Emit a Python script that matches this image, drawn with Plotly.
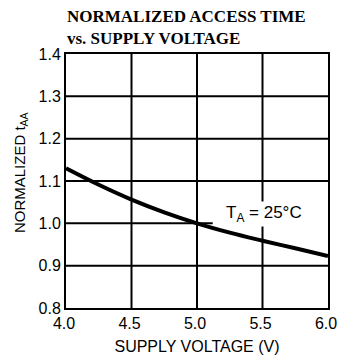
import plotly.graph_objects as go

voltage = [4.0, 4.25, 4.5, 4.75, 5.0, 5.25, 5.5, 5.75, 6.0]
norm_taa = [1.13, 1.091, 1.056, 1.026, 1.0, 0.978, 0.959, 0.941, 0.923]

x_ticks = [4.0, 4.5, 5.0, 5.5, 6.0]
x_tick_labels = ["4.0", "4.5", "5.0", "5.5", "6.0"]
y_ticks = [0.8, 0.9, 1.0, 1.1, 1.2, 1.3, 1.4]
y_tick_labels = ["0.8", "0.9", "1.0", "1.1", "1.2", "1.3", "1.4"]

label_text = "T<sub>A</sub> = 25°C"
label_pos = (5.51, 1.022)
leader_end = 5.12

SANS = "Liberation Sans, Arial, Helvetica, sans-serif"
SERIF = "Liberation Serif, Times New Roman, serif"

fig = go.Figure()
fig.add_trace(go.Scatter(x=voltage, y=norm_taa, mode="lines",
                         line=dict(color="black", width=4, shape="spline"),
                         hoverinfo="skip", showlegend=False))

shapes = []
for xv in x_ticks[1:-1]:
    shapes.append(dict(type="line", xref="x", yref="y", x0=xv, x1=xv,
                       y0=y_ticks[0], y1=y_ticks[-1],
                       line=dict(color="black", width=2), layer="between"))
for yv in y_ticks[1:-1]:
    x_end = leader_end if abs(yv - 1.0) < 1e-9 else x_ticks[-1]
    shapes.append(dict(type="line", xref="x", yref="y", x0=x_ticks[0], x1=x_end,
                       y0=yv, y1=yv,
                       line=dict(color="black", width=2), layer="between"))

fig.update_layout(
    width=339, height=356, autosize=False,
    margin=dict(l=66, r=11, t=54, b=48),
    paper_bgcolor="white", plot_bgcolor="white",
    font=dict(family=SANS, color="black", size=16),
    shapes=shapes,
    annotations=[
        dict(x=label_pos[0], y=label_pos[1], xref="x", yref="y", text=label_text,
             showarrow=False, bgcolor="white", font=dict(size=17), borderpad=1),
        dict(x=0.0, y=1.104, xref="paper", yref="paper", yanchor="middle", xanchor="left",
             align="left", borderpad=0,
             text="<b>NORMALIZED ACCESS TIME<br>vs. SUPPLY VOLTAGE</b>", showarrow=False,
             font=dict(family=SERIF, size=17)),
        dict(x=-0.1756, y=0.535, xref="paper", yref="paper", xanchor="center", yanchor="middle",
             text="NORMALIZED t<sub>AA</sub>", textangle=-90, showarrow=False,
             font=dict(size=15)),
    ],
)
fig.update_xaxes(range=[x_ticks[0], x_ticks[-1]], tickvals=x_ticks, ticktext=x_tick_labels,
                 showgrid=False, zeroline=False, showline=True, mirror=True,
                 linecolor="black", linewidth=2, ticks="", ticklabeloverflow="allow",
                 ticklabelshift=-2, automargin=False,
                 title=dict(text="SUPPLY VOLTAGE (V)", font=dict(size=16), standoff=10))
fig.update_yaxes(range=[y_ticks[0], y_ticks[-1]], tickvals=y_ticks, ticktext=y_tick_labels,
                 showgrid=False, zeroline=False, showline=True, mirror=True,
                 linecolor="black", linewidth=2, ticks="", ticklabeloverflow="allow",
                 automargin=False)

fig.write_html("out.html", config={"displayModeBar": False},
               post_script="document.body.style.margin='0';document.body.style.overflow='hidden';")
